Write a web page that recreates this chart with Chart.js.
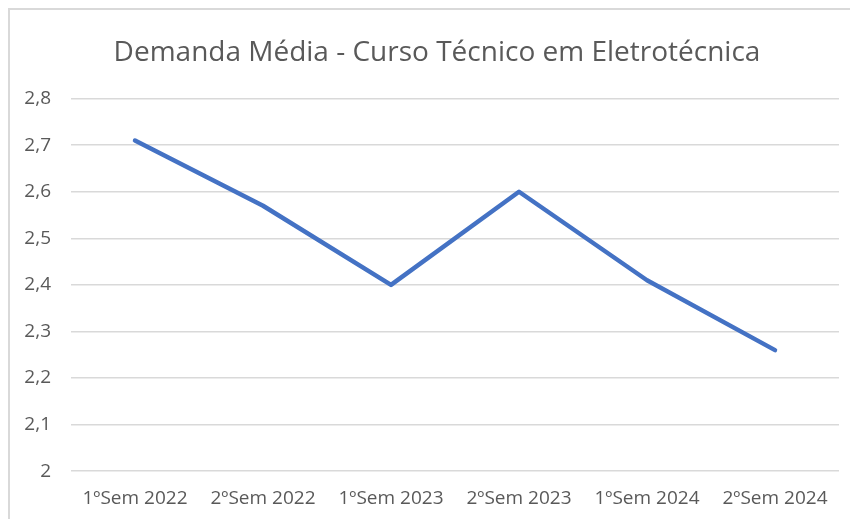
<!DOCTYPE html>
<html lang="pt-BR">
<head>
    <meta charset="UTF-8">
    <title>Demanda Média - Curso Técnico em Eletrotécnica</title>
    <script src="https://cdn.jsdelivr.net/npm/chart.js"></script>
    <style>
        html, body {
            margin: 0;
            padding: 0;
            background: #fff;
            overflow: hidden;
        }
        .frame {
            position: absolute;
            left: 8px;
            top: 8px;
            width: 900px;
            height: 600px;
            border-left: 2px solid #d9d9d9;
            border-top: 2px solid #d9d9d9;
        }
        .wrap {
            position: absolute;
            left: 0;
            top: 0;
            width: 860px;
            height: 518px;
        }
    </style>
</head>
<body>
    <div class="frame"></div>
    <div class="wrap">
        <canvas id="demandaChart"></canvas>
    </div>

    <script>
        const semestres = ['1ºSem 2022', '2ºSem 2022', '1ºSem 2023', '2ºSem 2023', '1ºSem 2024', '2ºSem 2024'];
        const demandaMedia = [2.71, 2.57, 2.40, 2.60, 2.41, 2.26];
        const yTicks = [2, 2.1, 2.2, 2.3, 2.4, 2.5, 2.6, 2.7, 2.8];

        const fonte = "'Open Sans', 'Noto Sans', sans-serif";
        const cinza = '#595959';

        const ctx = document.getElementById('demandaChart').getContext('2d');
        new Chart(ctx, {
            type: 'line',
            data: {
                labels: semestres,
                datasets: [{
                    label: 'Demanda Média',
                    data: demandaMedia,
                    borderColor: '#4472C4',
                    borderWidth: 4.5,
                    borderCapStyle: 'round',
                    borderJoinStyle: 'round',
                    pointRadius: 0,
                    tension: 0,
                    fill: false
                }]
            },
            options: {
                responsive: true,
                maintainAspectRatio: false,
                animation: false,
                layout: {
                    padding: { left: 21, right: 7, top: 36, bottom: 0 }
                },
                plugins: {
                    legend: { display: false },
                    tooltip: { enabled: false },
                    title: {
                        display: true,
                        text: 'Demanda Média - Curso Técnico em Eletrotécnica',
                        color: cinza,
                        font: { family: fonte, size: 28, weight: 'normal' },
                        padding: { top: 0, bottom: 29 }
                    }
                },
                scales: {
                    x: {
                        offset: true,
                        grid: { display: false },
                        border: { display: false },
                        ticks: {
                            color: cinza,
                            font: { family: fonte, size: 19 },
                            padding: 8,
                            maxRotation: 0,
                            autoSkip: false
                        }
                    },
                    y: {
                        min: 2,
                        max: 2.8,
                        afterFit: (scale) => { scale.width = 50; },
                        afterBuildTicks: (scale) => {
                            scale.ticks = yTicks.map(v => ({ value: v }));
                        },
                        grid: {
                            color: '#d9d9d9',
                            lineWidth: 1.5,
                            drawTicks: false
                        },
                        border: { display: false },
                        ticks: {
                            color: cinza,
                            font: { family: fonte, size: 19 },
                            padding: 20,
                            callback: (v) => String(Math.round(v * 10) / 10).replace('.', ',')
                        }
                    },
                    // eixo vazio à direita, só para centralizar o título como no original
                    yRight: {
                        position: 'right',
                        display: true,
                        afterFit: (scale) => { scale.width = 14; },
                        grid: { display: false },
                        border: { display: false },
                        ticks: { display: false }
                    }
                }
            }
        });
    </script>
</body>
</html>
